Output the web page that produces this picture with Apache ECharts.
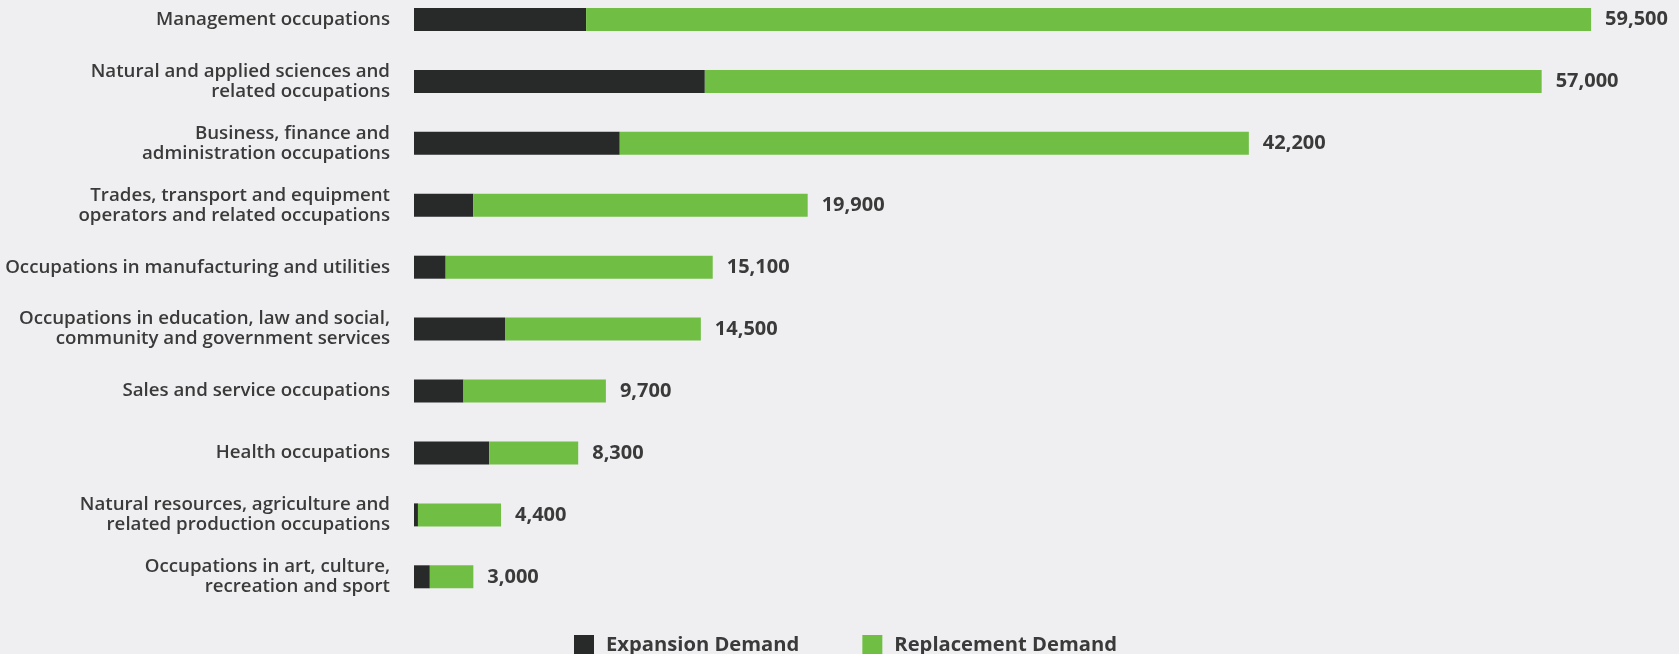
<!DOCTYPE html>
<html><head><meta charset="utf-8">
<script src="https://cdn.jsdelivr.net/npm/echarts@6/dist/echarts.min.js"></script>
<style>html,body{margin:0;padding:0;background:#efeff1;}#c{width:1679px;height:654px;}</style>
</head><body><div id="c"></div>
<script>
const categories = [
  "Management occupations",
  "Natural and applied sciences and\nrelated occupations",
  "Business, finance and\nadministration occupations",
  "Trades, transport and equipment\noperators and related occupations",
  "Occupations in manufacturing and utilities",
  "Occupations in education, law and social,\ncommunity and government services",
  "Sales and service occupations",
  "Health occupations",
  "Natural resources, agriculture and\nrelated production occupations",
  "Occupations in art, culture,\nrecreation and sport"
];
const totals = [59500, 57000, 42200, 19900, 15100, 14500, 9700, 8300, 4400, 3000];
const expansion = [8700, 14700, 10400, 3000, 1600, 4600, 2500, 3800, 200, 800];
const replacement = [50800, 42300, 31800, 16900, 13500, 9900, 7200, 4500, 4200, 2200];

const chart = echarts.init(document.getElementById('c'));
const textColor = '#3a3a3a';
chart.setOption({
  backgroundColor: '#efeff1',
  animation: false,
  grid: { left: 414, top: 19.5, width: 1187, height: 557.3, containLabel: false },
  xAxis: { type: 'value', min: 0, max: 60000, show: false },
  yAxis: {
    type: 'category', data: categories, inverse: true, boundaryGap: false,
    axisLine: { show: false }, axisTick: { show: false }, splitLine: { show: false },
    axisLabel: { color: textColor, fontFamily: 'Open Sans', fontWeight: 600, fontSize: 18.7, lineHeight: 20, margin: 24, align: 'right' }
  },
  legend: {
    top: 630, left: 569, itemWidth: 20, itemHeight: 20, itemGap: 63, icon: 'rect',
    textStyle: { color: textColor, fontFamily: 'Open Sans', fontWeight: 'bold', fontSize: 20.2, padding: [0, 0, 0, 7] },
    data: ['Expansion Demand', 'Replacement Demand']
  },
  series: [
    { name: 'Expansion Demand', type: 'bar', stack: 't', data: expansion, barWidth: 23,
      itemStyle: { color: '#282a2a' } },
    { name: 'Replacement Demand', type: 'bar', stack: 't', data: replacement, barWidth: 23,
      itemStyle: { color: '#70bf44' },
      label: { show: true, position: 'right', distance: 14, color: textColor, fontFamily: 'Open Sans', fontWeight: 'bold', fontSize: 20,
        formatter: p => totals[p.dataIndex].toLocaleString('en-US') } }
  ]
});
</script></body></html>
